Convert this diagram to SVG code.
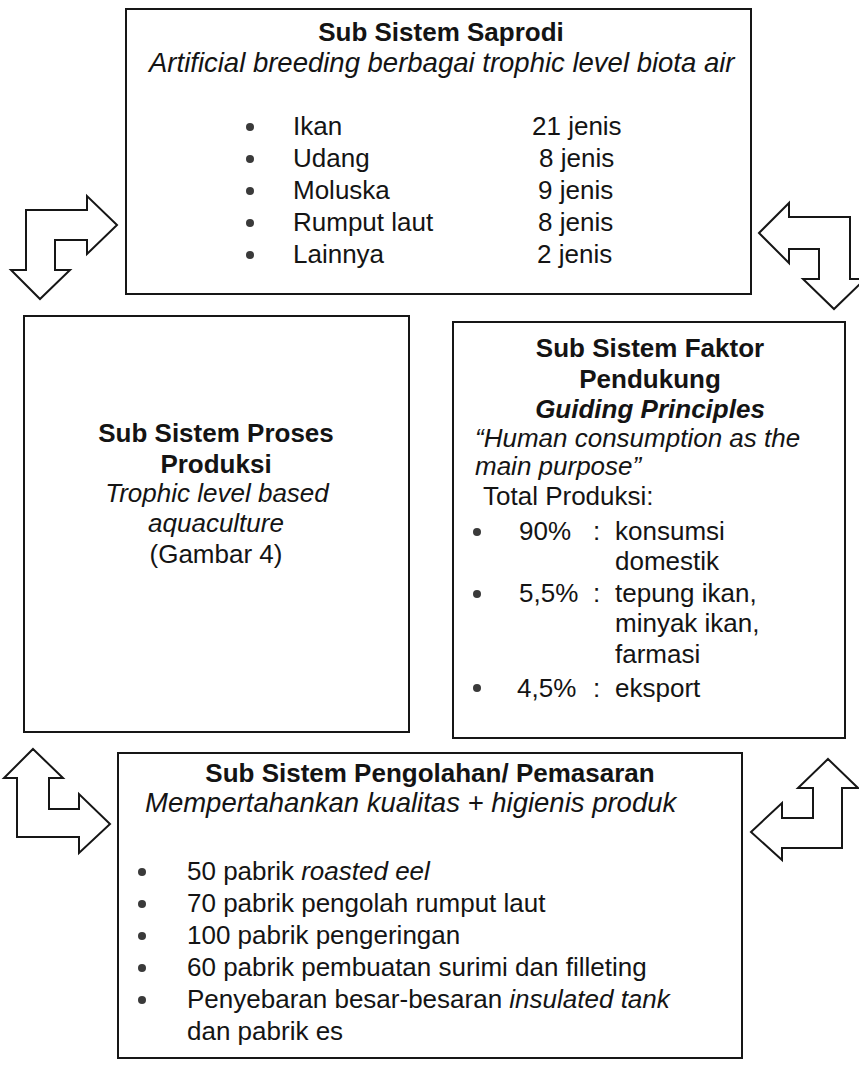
<svg xmlns="http://www.w3.org/2000/svg" width="859" height="1066" viewBox="0 0 859 1066">
<style>
.box{fill:#fff;stroke:#161616;stroke-width:2}
.arr{fill:#fff;stroke:#161616;stroke-width:2;stroke-linejoin:miter}
text{font-family:"Liberation Sans",Arial,sans-serif;font-size:26px;fill:#141414}
.b{font-weight:bold}
.i{font-style:italic}
.c{text-anchor:middle}
.sub{font-size:27.5px}
.dot{fill:#3a3a3a}
</style>
<rect width="859" height="1066" fill="#fff"/>
<g id="connectors">
<polygon class="arr" points="26,210 87,210 87,196 117,225 87,254 87,240 55,240 55,270 70,270 40,299 11,270 26,270"/>
<polygon class="arr" points="759,233 789,203 789,217 850,217 850,279 865,279 834,309 803,279 819,279 819,249 789,249 789,263"/>
<polygon class="arr" points="33,749 63,778 49,778 49,809 79,809 79,794 110,824 79,853 79,837 17,837 17,778 4,778"/>
<polygon class="arr" points="828,759 858,788 842,788 842,848 782,848 782,860 751,832 782,803 782,818 813,818 813,788 798,788"/>
</g>
<g id="saprodi">
<rect class="box" x="126" y="9" width="625" height="285"/>
<text class="b c" x="441" y="41">Sub Sistem Saprodi</text>
<text class="i sub" x="149" y="72">Artificial breeding berbagai trophic level biota air</text>
<circle class="dot" cx="250" cy="127" r="4"/>
<circle class="dot" cx="250" cy="159" r="4"/>
<circle class="dot" cx="250" cy="191" r="4"/>
<circle class="dot" cx="250" cy="223" r="4"/>
<circle class="dot" cx="250" cy="255" r="4"/>
<text x="293" y="135">Ikan</text>
<text x="293" y="167">Udang</text>
<text x="293" y="199">Moluska</text>
<text x="293" y="231">Rumput laut</text>
<text x="293" y="263">Lainnya</text>
<text x="532" y="135">21 jenis</text>
<text x="539" y="167">8 jenis</text>
<text x="538" y="199">9 jenis</text>
<text x="538" y="231">8 jenis</text>
<text x="537" y="263">2 jenis</text>
</g>
<g id="proses">
<rect class="box" x="24" y="316" width="385" height="416"/>
<text class="b c" x="216" y="442">Sub Sistem Proses</text>
<text class="b c" x="216" y="473">Produksi</text>
<text class="i c" x="217" y="502">Trophic level based</text>
<text class="i c" x="216" y="532">aquaculture</text>
<text class="c" x="216" y="563">(Gambar 4)</text>
</g>
<g id="faktor">
<rect class="box" x="453" y="322" width="392" height="416"/>
<text class="b c" x="650" y="357">Sub Sistem Faktor</text>
<text class="b c" x="650" y="388">Pendukung</text>
<text class="b i c" x="650" y="418">Guiding Principles</text>
<text class="i" x="475" y="447">“Human consumption as the</text>
<text class="i" x="475" y="475">main purpose”</text>
<text x="483" y="505">Total Produksi:</text>
<circle class="dot" cx="477" cy="532" r="4"/>
<circle class="dot" cx="477" cy="594" r="4"/>
<circle class="dot" cx="477" cy="688" r="4"/>
<text x="519" y="540">90%</text>
<text x="593" y="540">:</text>
<text x="615" y="540">konsumsi</text>
<text x="615" y="570">domestik</text>
<text x="519" y="602">5,5%</text>
<text x="593" y="602">:</text>
<text x="615" y="602">tepung ikan,</text>
<text x="615" y="632">minyak ikan,</text>
<text x="615" y="663">farmasi</text>
<text x="517" y="697">4,5%</text>
<text x="593" y="697">:</text>
<text x="615" y="697">eksport</text>
</g>
<g id="pengolahan">
<rect class="box" x="118" y="753" width="624" height="305"/>
<text class="b c" x="430" y="782">Sub Sistem Pengolahan/ Pemasaran</text>
<text class="i sub" x="145" y="812">Mempertahankan kualitas + higienis produk</text>
<circle class="dot" cx="142" cy="872" r="4"/>
<circle class="dot" cx="142" cy="904" r="4"/>
<circle class="dot" cx="142" cy="936" r="4"/>
<circle class="dot" cx="142" cy="968" r="4"/>
<circle class="dot" cx="142" cy="1000" r="4"/>
<text x="187" y="880">50 pabrik <tspan class="i">roasted eel</tspan></text>
<text x="187" y="912">70 pabrik pengolah rumput laut</text>
<text x="187" y="944">100 pabrik pengeringan</text>
<text x="187" y="976">60 pabrik pembuatan surimi dan filleting</text>
<text x="187" y="1008">Penyebaran besar-besaran <tspan class="i">insulated tank</tspan></text>
<text x="187" y="1040">dan pabrik es</text>
</g>
</svg>
